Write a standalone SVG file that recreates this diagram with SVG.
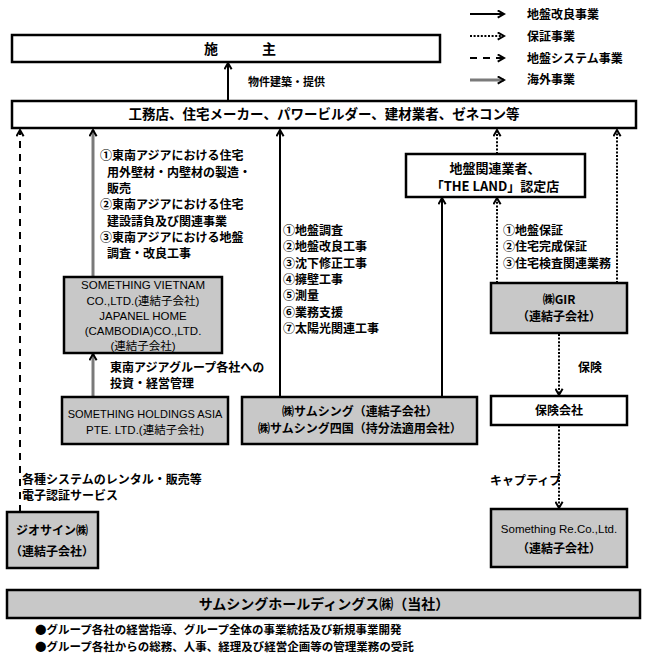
<svg xmlns="http://www.w3.org/2000/svg" width="648" height="657" viewBox="0 0 648 657">
<style>
.box{fill:#fff;stroke:#000;stroke-width:2.5}
.gbox{fill:#c8c8c8;stroke:#000;stroke-width:2.5}
.ln{fill:none;stroke:#000;stroke-width:2}
.dot{stroke-dasharray:2 1.6}
.dash{stroke-dasharray:7 6}
.gray{stroke:#7a7a7a;stroke-width:3}
.t{font-family:"Noto Sans CJK JP","Noto Sans CJK SC",sans-serif;font-size:12px;font-weight:bold;fill:#000}
.l{font-family:"Liberation Sans","Noto Sans CJK JP",sans-serif;font-size:11.5px;fill:#000}
.c{text-anchor:middle}
</style>
<defs>
<marker id="ah" viewBox="0 0 10 10" refX="8" refY="5" markerWidth="9" markerHeight="9" markerUnits="userSpaceOnUse" orient="auto">
<path d="M1,1 L8,5 L1,9" fill="none" stroke="#000" stroke-width="2.2"/>
</marker>
</defs>

<g id="legend">
<line class="ln" x1="470" y1="14" x2="504" y2="14" marker-end="url(#ah)"/>
<text class="t" x="527" y="19">地盤改良事業</text>
<line class="ln dot" x1="470" y1="36" x2="504" y2="36" marker-end="url(#ah)"/>
<text class="t" x="527" y="41">保証事業</text>
<line class="ln dash" x1="470" y1="58" x2="504" y2="58" marker-end="url(#ah)"/>
<text class="t" x="527" y="63">地盤システム事業</text>
<line class="ln gray" x1="470" y1="80" x2="504" y2="80" marker-end="url(#ah)"/>
<text class="t" x="527" y="84">海外事業</text>
</g>

<g id="connectors">
<line class="ln" x1="228" y1="101" x2="228" y2="63" marker-end="url(#ah)"/>
<line class="ln dash" x1="20" y1="512" x2="20" y2="130" marker-end="url(#ah)"/>
<line class="ln gray" x1="93" y1="276" x2="93" y2="130" marker-end="url(#ah)"/>
<line class="ln gray" x1="93" y1="397" x2="93" y2="354" marker-end="url(#ah)"/>
<line class="ln" x1="280" y1="397" x2="280" y2="130" marker-end="url(#ah)"/>
<line class="ln" x1="442" y1="397" x2="442" y2="198" marker-end="url(#ah)"/>
<line class="ln dot" x1="497" y1="154" x2="497" y2="130" marker-end="url(#ah)"/>
<line class="ln dot" x1="617" y1="283" x2="617" y2="130" marker-end="url(#ah)"/>
<line class="ln dot" x1="497" y1="283" x2="497" y2="198" marker-end="url(#ah)"/>
<line class="ln dot" x1="559" y1="334" x2="559" y2="395" marker-end="url(#ah)"/>
<line class="ln dot" x1="559" y1="426" x2="559" y2="508" marker-end="url(#ah)"/>
</g>

<g id="labels">
<text class="t" x="248" y="86" style="font-size:11px">物件建築・提供</text>
<text class="t" x="100" y="160">①東南アジアにおける住宅</text>
<text class="t" x="107" y="177">用外壁材・内壁材の製造・</text>
<text class="t" x="107" y="193">販売</text>
<text class="t" x="100" y="209">②東南アジアにおける住宅</text>
<text class="t" x="107" y="226">建設請負及び関連事業</text>
<text class="t" x="100" y="242">③東南アジアにおける地盤</text>
<text class="t" x="107" y="258">調査・改良工事</text>
<text class="t" x="110" y="372">東南アジアグループ各社への</text>
<text class="t" x="110" y="388">投資・経営管理</text>
<text class="t" x="283" y="235">①地盤調査</text>
<text class="t" x="283" y="251">②地盤改良工事</text>
<text class="t" x="283" y="268">③沈下修正工事</text>
<text class="t" x="283" y="284">④擁壁工事</text>
<text class="t" x="283" y="300">⑤測量</text>
<text class="t" x="283" y="317">⑥業務支援</text>
<text class="t" x="283" y="333">⑦太陽光関連工事</text>
<text class="t" x="503" y="235">①地盤保証</text>
<text class="t" x="503" y="251">②住宅完成保証</text>
<text class="t" x="503" y="268">③住宅検査関連業務</text>
<text class="t" x="578" y="372">保険</text>
<text class="t" x="490" y="485">キャプティブ</text>
<text class="t" x="22" y="484">各種システムのレンタル・販売等</text>
<text class="t" x="22" y="500">電子認証サービス</text>
</g>

<g id="seshu">
<rect class="box" x="12" y="35" width="428" height="27"/>
<text class="t" x="204" y="54" style="font-size:14px">施</text>
<text class="t" x="262" y="54" style="font-size:14px">主</text>
</g>

<g id="koumuten">
<rect class="box" x="12" y="101" width="624" height="27"/>
<text class="t c" x="324" y="119" style="font-size:13.5px">工務店、住宅メーカー、パワービルダー、建材業者、ゼネコン等</text>
</g>

<g id="jiban">
<rect class="box" x="406" y="154" width="179" height="43"/>
<text class="t c" x="495" y="173" style="font-size:13px">地盤関連業者、</text>
<text class="t c" x="495" y="191" style="font-size:13px">「THE LAND」認定店</text>
</g>

<g id="vietnam">
<rect class="gbox" x="64" y="277" width="158" height="76"/>
<text class="l c" x="143" y="289">SOMETHING VIETNAM</text>
<text class="l c" x="143" y="305">CO.,LTD.(連結子会社)</text>
<text class="l c" x="143" y="320">JAPANEL HOME</text>
<text class="l c" x="143" y="335">(CAMBODIA)CO.,LTD.</text>
<text class="l c" x="143" y="350">(連結子会社)</text>
</g>

<g id="holdings-asia">
<rect class="gbox" x="62" y="397" width="166" height="47"/>
<text class="l c" x="145" y="418" style="font-size:11px">SOMETHING HOLDINGS ASIA</text>
<text class="l c" x="145" y="434">PTE. LTD.(連結子会社)</text>
</g>

<g id="samsing">
<rect class="gbox" x="242" y="397" width="235" height="47"/>
<text class="t c" x="360" y="416">㈱サムシング（連結子会社）</text>
<text class="t c" x="360" y="433">㈱サムシング四国（持分法適用会社）</text>
</g>

<g id="gir">
<rect class="gbox" x="491" y="283" width="136" height="50"/>
<text class="t c" x="559" y="304">㈱GIR</text>
<text class="t c" x="559" y="321">（連結子会社）</text>
</g>

<g id="hoken">
<rect class="box" x="491" y="396" width="136" height="29"/>
<text class="t c" x="559" y="415">保険会社</text>
</g>

<g id="something-re">
<rect class="gbox" x="491" y="509" width="136" height="58"/>
<text class="l c" x="559" y="533">Something Re.Co.,Ltd.</text>
<text class="t c" x="559" y="553">（連結子会社）</text>
</g>

<g id="geosign">
<rect class="gbox" x="7" y="512" width="91" height="56"/>
<text class="t c" x="52" y="535">ジオサイン㈱</text>
<text class="t c" x="52" y="556">（連結子会社）</text>
</g>

<g id="samsing-hd">
<rect class="gbox" x="7" y="590" width="633" height="28"/>
<text class="t c" x="324" y="609" style="font-size:14px">サムシングホールディングス㈱（当社）</text>
<text class="t" x="35" y="634" style="font-size:11.5px">●グループ各社の経営指導、グループ全体の事業統括及び新規事業開発</text>
<text class="t" x="35" y="651" style="font-size:11.5px">●グループ各社からの総務、人事、経理及び経営企画等の管理業務の受託</text>
</g>
</svg>
